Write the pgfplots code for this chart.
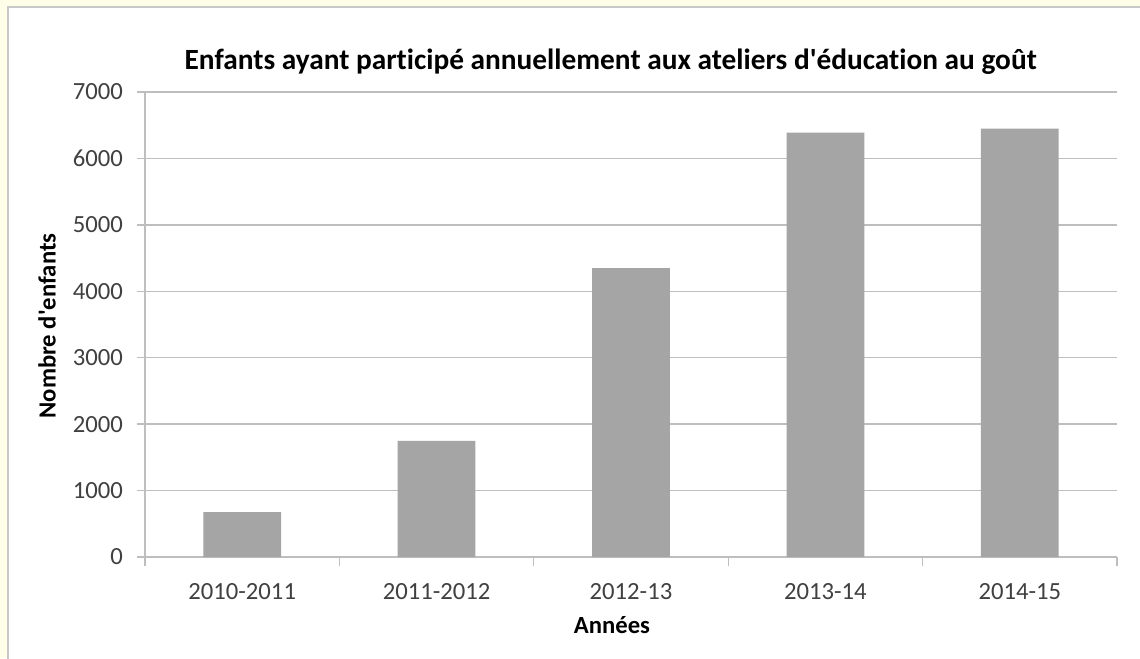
\documentclass[border=0pt]{standalone}
\usepackage{pgfplots}
\pgfplotsset{compat=1.18}
\usepackage{fontspec}
\setmainfont{Carlito}[Ligatures={TeXOff,CommonOff}]
\definecolor{cream}{RGB}{254,254,232}
\definecolor{framegrey}{RGB}{200,200,200}
\definecolor{gridgrey}{RGB}{190,190,190}
\definecolor{bargrey}{RGB}{165,165,165}
\definecolor{ticktext}{RGB}{64,64,64}
\begin{document}
\begin{tikzpicture}
% page background and chart frame (1px = 0.75pt)
\useasboundingbox (0pt,0pt) rectangle (855pt,493.5pt);
\fill[cream] (0pt,0pt) rectangle (855pt,493.5pt);
\filldraw[fill=white,draw=framegrey,line width=1.2pt] (6pt,-2pt) rectangle (858pt,488.25pt);
\begin{axis}[
  at={(108.75pt,75.75pt)}, anchor=south west,
  scale only axis, width=729pt, height=348.75pt,
  xmin=-0.5, xmax=4.5, ymin=0, ymax=7000,
  axis x line*=bottom, axis y line*=left,
  axis line style={gridgrey,line width=1pt},
  xtick={0,1,2,3,4},
  xticklabels={2010-2011,2011-2012,2012-13,2013-14,2014-15},
  major x tick style={draw=none},
  minor xtick={-0.5,0.5,1.5,2.5,3.5,4.5},
  minor tick length=7pt,
  tick align=outside,
  ytick={0,1000,...,7000},
  major tick length=6pt,
  tick style={gridgrey,line width=1pt},
  ymajorgrids, grid style={gridgrey,line width=1pt},
  ticklabel style={font=\fontsize{18.5}{20}\selectfont, text=ticktext},
  yticklabel style={/pgf/number format/1000 sep={}, xshift=-7pt},
  /pgf/number format/assume math mode=true,
  xticklabel style={yshift=-10pt},
  ybar, bar width=0.4,
  clip=false,
]
\addplot[fill=bargrey, draw=none] coordinates {(0,675) (1,1750) (2,4350) (3,6390) (4,6450)};
\end{axis}
\node[font=\bfseries\fontsize{22}{26}\selectfont] at (458pt,447pt) {Enfants ayant participé annuellement aux ateliers d'éducation au goût};
\node[font=\bfseries\fontsize{18.5}{20}\selectfont, rotate=90] at (35.25pt,249pt) {Nombre d'enfants};
\node[font=\bfseries\fontsize{18.5}{20}\selectfont] at (459pt,25pt) {Années};
\end{tikzpicture}
\end{document}
